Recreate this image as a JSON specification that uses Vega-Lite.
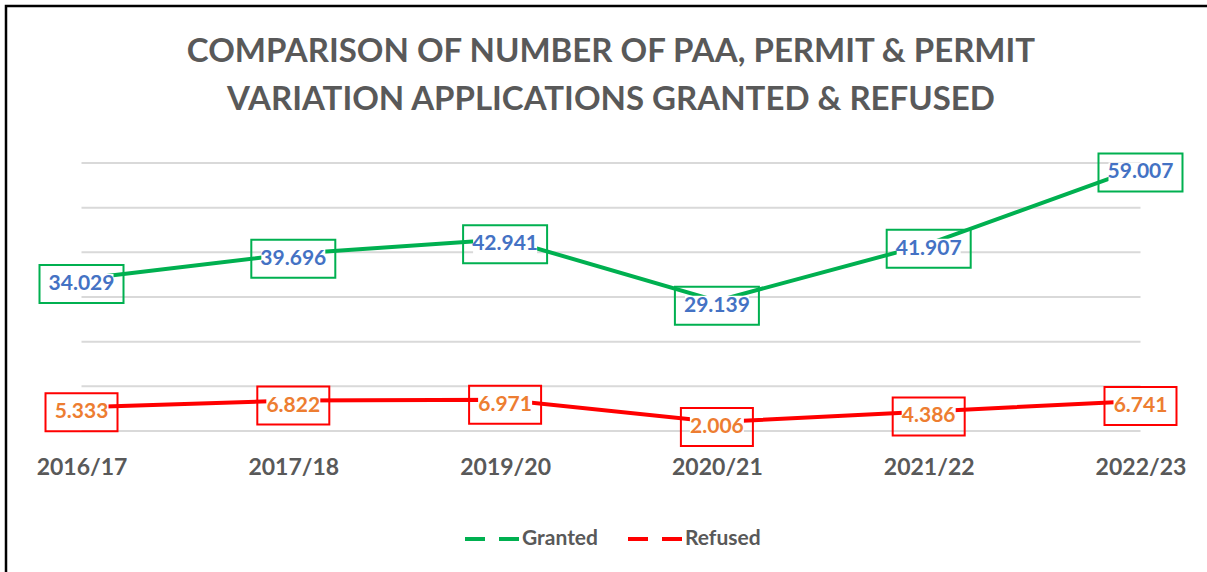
{
  "$schema": "https://vega.github.io/schema/vega-lite/v6.json",
  "width": 1210,
  "height": 580,
  "autosize": {"type": "none"},
  "padding": {"left": 6, "top": 6, "right": 0, "bottom": 0},
  "background": "white",
  "config": {"view": {"stroke": "black", "strokeWidth": 2.5}, "font": "Lato"},
  "title": {
    "text": ["COMPARISON OF NUMBER OF PAA, PERMIT & PERMIT", "VARIATION APPLICATIONS GRANTED & REFUSED"],
    "anchor": "middle",
    "frame": "group",
    "baseline": "top",
    "offset": -86,
    "dy": 25,
    "lineHeight": 48,
    "font": "Lato",
    "fontSize": 33,
    "fontWeight": "bold",
    "color": "#595959"
  },
  "datasets": {
    "main": [
      {"year": "2016/17", "series": "Granted", "value": 34.029},
      {"year": "2017/18", "series": "Granted", "value": 39.696},
      {"year": "2019/20", "series": "Granted", "value": 42.941},
      {"year": "2020/21", "series": "Granted", "value": 29.139},
      {"year": "2021/22", "series": "Granted", "value": 41.907},
      {"year": "2022/23", "series": "Granted", "value": 59.007},
      {"year": "2016/17", "series": "Refused", "value": 5.333},
      {"year": "2017/18", "series": "Refused", "value": 6.822},
      {"year": "2019/20", "series": "Refused", "value": 6.971},
      {"year": "2020/21", "series": "Refused", "value": 2.006},
      {"year": "2021/22", "series": "Refused", "value": 4.386},
      {"year": "2022/23", "series": "Refused", "value": 6.741}
    ],
    "grid": [
      {"g": 0, "from": "2016/17", "to": "2022/23"},
      {"g": 10, "from": "2016/17", "to": "2022/23"},
      {"g": 20, "from": "2016/17", "to": "2022/23"},
      {"g": 30, "from": "2016/17", "to": "2022/23"},
      {"g": 40, "from": "2016/17", "to": "2022/23"},
      {"g": 50, "from": "2016/17", "to": "2022/23"},
      {"g": 60, "from": "2016/17", "to": "2022/23"}
    ]
  },
  "encoding": {
    "x": {
      "field": "year",
      "type": "nominal",
      "scale": {"type": "point", "domain": ["2016/17", "2017/18", "2019/20", "2020/21", "2021/22", "2022/23"], "padding": 0.3565},
      "axis": {
        "title": null,
        "domain": false,
        "ticks": false,
        "grid": false,
        "offset": -155,
        "labelAngle": 0,
        "labelFont": "Lato",
        "labelFontSize": 23,
        "labelFontWeight": "bold",
        "labelColor": "#595959",
        "labelPadding": 25
      }
    },
    "y": {
      "field": "value",
      "type": "quantitative",
      "scale": {"domain": [-34.70, 95.15], "nice": false, "zero": false},
      "axis": null
    }
  },
  "layer": [
    {
      "data": {"name": "grid"},
      "mark": {"type": "rule", "color": "#D9D9D9", "strokeWidth": 2},
      "encoding": {
        "x": {"field": "from", "type": "nominal"},
        "x2": {"field": "to"},
        "y": {"field": "g", "type": "quantitative"}
      }
    },
    {
      "data": {"name": "main"},
      "mark": {"type": "line", "strokeWidth": 4},
      "encoding": {
        "color": {
          "field": "series",
          "type": "nominal",
          "scale": {"domain": ["Granted", "Refused"], "range": ["#00B050", "#FF0000"]},
          "legend": {
            "orient": "none",
            "legendX": 457,
            "legendY": 504,
            "direction": "horizontal",
            "title": null,
            "symbolType": "stroke",
            "symbolSize": 2916,
            "symbolStrokeWidth": 4,
            "symbolDash": [20, 14],
            "labelFont": "Lato",
            "labelFontSize": 21,
            "labelFontWeight": "bold",
            "labelColor": "#595959",
            "labelOffset": 1,
            "columnPadding": 22,
            "padding": 0
          }
        }
      }
    },
    {
      "data": {"name": "main"},
      "transform": [{"filter": "datum.series === 'Granted'"}],
      "mark": {"type": "point", "filled": true, "opacity": 1, "strokeWidth": 0, "color": "white", "yOffset": 5, "shape": "M-1,-0.3125H1V0.3125H-1Z", "size": 4096}
    },
    {
      "data": {"name": "main"},
      "transform": [{"filter": "datum.series === 'Refused'"}],
      "mark": {"type": "point", "filled": true, "opacity": 1, "strokeWidth": 0, "color": "white", "yOffset": 5, "shape": "M-1,-0.370H1V0.370H-1Z", "size": 2916}
    },
    {
      "data": {"name": "main"},
      "transform": [{"filter": "datum.series === 'Granted'"}],
      "mark": {"type": "point", "filled": false, "opacity": 1, "strokeWidth": 2, "color": "#00B050", "yOffset": 5, "shape": "M-1,-0.4524H1V0.4524H-1Z", "size": 7056}
    },
    {
      "data": {"name": "main"},
      "transform": [{"filter": "datum.series === 'Refused'"}],
      "mark": {"type": "point", "filled": false, "opacity": 1, "strokeWidth": 2, "color": "#FF0000", "yOffset": 5, "shape": "M-1,-0.5278H1V0.5278H-1Z", "size": 5184}
    },
    {
      "data": {"name": "main"},
      "transform": [{"filter": "datum.series === 'Granted'"}],
      "mark": {"type": "text", "font": "Lato", "fontSize": 21, "fontWeight": "bold", "baseline": "middle", "align": "center", "dy": 5, "color": "#4472C4"},
      "encoding": {"text": {"field": "value", "type": "quantitative", "format": ".3f"}}
    },
    {
      "data": {"name": "main"},
      "transform": [{"filter": "datum.series === 'Refused'"}],
      "mark": {"type": "text", "font": "Lato", "fontSize": 21, "fontWeight": "bold", "baseline": "middle", "align": "center", "dy": 5, "color": "#ED7D31"},
      "encoding": {"text": {"field": "value", "type": "quantitative", "format": ".3f"}}
    }
  ]
}
